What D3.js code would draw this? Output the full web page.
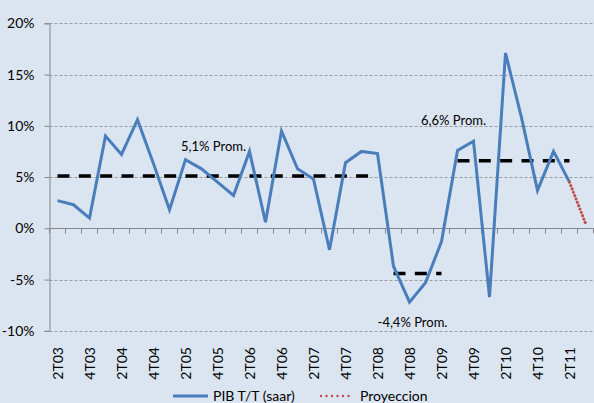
<!DOCTYPE html>
<html>
<head>
<meta charset="utf-8">
<script src="https://cdn.jsdelivr.net/npm/d3@7"></script>
<style>
  html, body { margin: 0; padding: 0; background: #dbe5f1; }
  svg { display: block; font-family: Lato, "Open Sans", sans-serif; }
</style>
</head>
<body>
<div id="chart"></div>
<script>
// quarters 2T03 .. 3T11
var quarters = [];
for (var yr = 3; yr <= 11; yr++) {
  for (var q = 1; q <= 4; q++) {
    if (yr === 3 && q < 2) continue;
    if (yr === 11 && q > 3) continue;
    quarters.push(q + "T" + (yr < 10 ? "0" + yr : "" + yr));
  }
}

var pib = [2.7, 2.3, 1.0, 9.0, 7.2, 10.6, 6.3, 1.8, 6.7, 5.8, 4.5, 3.2, 7.5, 0.6, 9.5,
  5.8, 4.8, -2.1, 6.4, 7.5, 7.3, -3.7, -7.2, -5.3, -1.3, 7.6, 8.5, -6.7, 17.1, 10.8,
  3.7, 7.5, 4.5];
var proyeccion = [[32, 4.5], [33, 0.5]];

// promedios: [desde, hasta, valor]
var promedios = [
  { from: "2T03", to: "2T08", value: 5.1, label: "5,1% Prom.", lx: "2T05", ly: 8.0 },
  { from: "3T08", to: "2T09", value: -4.4, label: "-4,4% Prom.", lx: "4T08", ly: -9.2 },
  { from: "3T09", to: "2T11", value: 6.6, label: "6,6% Prom.", lx: "4T09", ly: 10.5 }
];

var yTicks = [-10, -5, 0, 5, 10, 15, 20];

var W = 594, H = 403;
var svg = d3.select("#chart").append("svg").attr("width", W).attr("height", H);
svg.append("rect").attr("width", W).attr("height", H).attr("fill", "#dbe5f1");

var x = d3.scaleBand().domain(quarters).range([49.5, 593.5]).padding(0);
var y = d3.scaleLinear().domain([-10, 20]).range([330.8, 23.3]);
var cx = function(q){ return x(q) + x.bandwidth() / 2; };

// grid
svg.append("g").selectAll("line").data(yTicks.filter(function(d){ return d !== 0; }))
  .enter().append("line")
  .attr("x1", 49.5).attr("x2", W)
  .attr("y1", function(d){ return Math.round(y(d)) + 0.5; })
  .attr("y2", function(d){ return Math.round(y(d)) + 0.5; })
  .attr("stroke", "#9c9c9c").attr("stroke-width", 1).attr("stroke-dasharray", "3,2");

// y axis
var yAxis = svg.append("g").attr("transform", "translate(49.5,0)")
  .call(d3.axisLeft(y).tickValues(yTicks).tickSize(5).tickPadding(10)
    .tickFormat(function(d){ return d + "%"; }));
yAxis.select(".domain").attr("stroke", "#868686");
yAxis.selectAll(".tick line").attr("stroke", "#868686");
yAxis.selectAll("text").attr("font-size", 14).attr("fill", "#000")
  .attr("font-family", "Lato, 'Open Sans', sans-serif");

// x axis at 0
var y0 = Math.round(y(0)) + 0.5;
svg.append("line").attr("x1", 49.5).attr("x2", 593.5).attr("y1", y0).attr("y2", y0)
  .attr("stroke", "#868686");
svg.append("g").selectAll("line").data(d3.range(quarters.length + 1)).enter().append("line")
  .attr("x1", function(i){ return 49.5 + i * x.step(); })
  .attr("x2", function(i){ return 49.5 + i * x.step(); })
  .attr("y1", y0).attr("y2", y0 + 5).attr("stroke", "#868686");

// x labels
svg.append("g").selectAll("text")
  .data(quarters.filter(function(q){ return q[0] === "2" || q[0] === "4"; }))
  .enter().append("text")
  .attr("transform", function(q){ return "translate(" + (cx(q) + 1) + ",347) rotate(-90)"; })
  .attr("text-anchor", "end").attr("dy", "0.35em")
  .attr("font-size", 14).attr("fill", "#000").text(function(q){ return q; });

// promedios
promedios.forEach(function(p){
  svg.append("line")
    .attr("x1", cx(p.from)).attr("x2", cx(p.to))
    .attr("y1", y(p.value)).attr("y2", y(p.value))
    .attr("stroke", "#000").attr("stroke-width", 3.5).attr("stroke-dasharray", "12,9.33");
});

// serie principal
var line = d3.line().x(function(d, i){ return cx(quarters[i]); }).y(function(d){ return y(d); });
svg.append("path").datum(pib).attr("d", line)
  .attr("fill", "none").attr("stroke", "#4a7ebb").attr("stroke-width", 3)
  .attr("stroke-linejoin", "miter");

// proyeccion
svg.append("path").datum(proyeccion)
  .attr("d", d3.line().x(function(d){ return cx(quarters[d[0]]); }).y(function(d){ return y(d[1]); }))
  .attr("fill", "none").attr("stroke", "#c0504d").attr("stroke-width", 3.2)
  .attr("stroke-dasharray", "0,3.6").attr("stroke-linecap", "round");

// etiquetas
svg.append("g").selectAll("text").data(promedios).enter().append("text")
  .attr("x", function(p){ return cx(p.lx) + (p.lx === "2T05" ? 28 : p.lx === "4T08" ? 3 : -20); })
  .attr("y", function(p){ return y(p.ly); })
  .attr("text-anchor", "middle").attr("dy", "0.35em")
  .attr("font-size", 13).attr("fill", "#000").text(function(p){ return p.label; });

// leyenda
var lg = svg.append("g").attr("font-size", 14).attr("fill", "#000");
lg.append("line").attr("x1", 173).attr("x2", 208).attr("y1", 396).attr("y2", 396)
  .attr("stroke", "#4a7ebb").attr("stroke-width", 3);
lg.append("text").attr("x", 213).attr("y", 401).text("PIB T/T (saar)");
lg.append("line").attr("x1", 321).attr("x2", 354).attr("y1", 396).attr("y2", 396)
  .attr("stroke", "#c0504d").attr("stroke-width", 2.5)
  .attr("stroke-dasharray", "0,5.5").attr("stroke-linecap", "round");
lg.append("text").attr("x", 360).attr("y", 401).text("Proyeccion");
</script>
</body>
</html>
